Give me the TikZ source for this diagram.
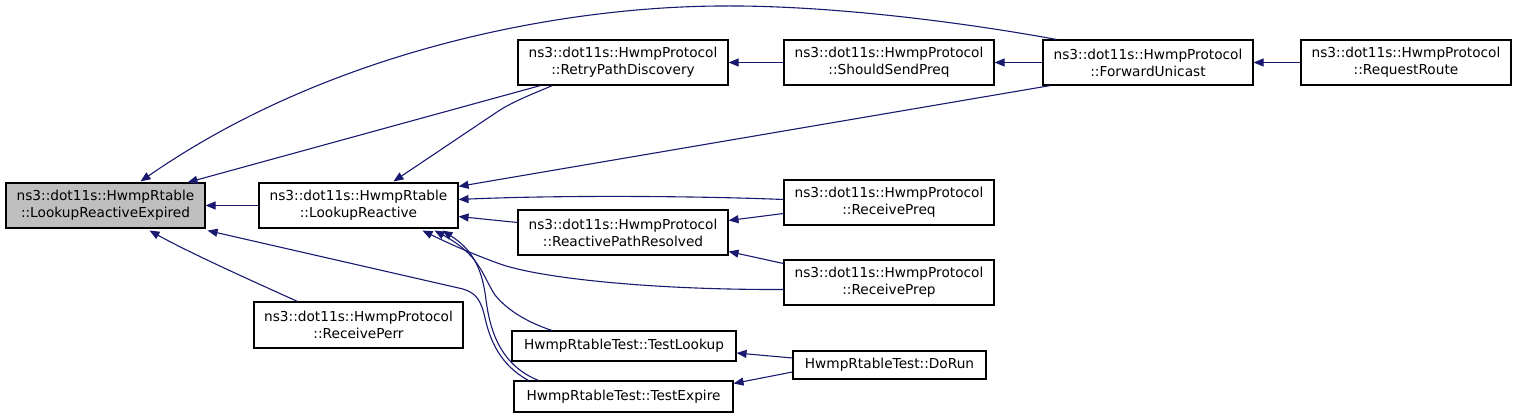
\documentclass[tikz,border=0pt]{standalone}
\usepackage{fontspec}
\setmainfont{DejaVu Sans}
\usetikzlibrary{arrows.meta,calc}
\definecolor{edgeblue}{HTML}{191970}
\definecolor{rootgray}{HTML}{BFBFBF}
\begin{document}
\begin{tikzpicture}[x=1pt,y=-1pt,
  box/.style={draw=black,line width=1.1pt,fill=white,inner sep=0pt,align=center,
    font=\fontsize{13.7}{17}\selectfont},
  edge/.style={draw=edgeblue,line width=1.1pt,-{Triangle[length=10pt,width=8pt]}}]
\useasboundingbox (0,0) rectangle (1517,419);
\node[box,fill=rootgray,minimum width=199pt,minimum height=45pt] (A) at (105.5,205.5) {ns3::dot11s::HwmpRtable\\::LookupReactiveExpired};
\node[box,minimum width=199pt,minimum height=45pt] (B) at (358.5,205.5) {ns3::dot11s::HwmpRtable\\::LookupReactive};
\node[box,minimum width=210pt,minimum height=45pt] (C) at (623,62.5) {ns3::dot11s::HwmpProtocol\\::RetryPathDiscovery};
\node[box,minimum width=210pt,minimum height=45pt] (D) at (889,62.5) {ns3::dot11s::HwmpProtocol\\::ShouldSendPreq};
\node[box,minimum width=210pt,minimum height=45pt] (E) at (1148,62.5) {ns3::dot11s::HwmpProtocol\\::ForwardUnicast};
\node[box,minimum width=210pt,minimum height=45pt] (F) at (1406,62.5) {ns3::dot11s::HwmpProtocol\\::RequestRoute};
\node[box,minimum width=210pt,minimum height=45pt] (G) at (889,202.5) {ns3::dot11s::HwmpProtocol\\::ReceivePreq};
\node[box,minimum width=210pt,minimum height=45pt] (H) at (623,232.5) {ns3::dot11s::HwmpProtocol\\::ReactivePathResolved};
\node[box,minimum width=210pt,minimum height=45pt] (I) at (889,282.5) {ns3::dot11s::HwmpProtocol\\::ReceivePrep};
\node[box,minimum width=209pt,minimum height=46pt] (J) at (358.5,325) {ns3::dot11s::HwmpProtocol\\::ReceivePerr};
\node[box,minimum width=224pt,minimum height=30pt] (K) at (624,346) {HwmpRtableTest::TestLookup};
\node[box,minimum width=219pt,minimum height=31pt] (L) at (623.5,396.5) {HwmpRtableTest::TestExpire};
\node[box,minimum width=193pt,minimum height=28pt] (M) at (889.5,365) {HwmpRtableTest::DoRun};
% edges
\draw[edge] (B.west) -- (A.east);
\draw[edge] ($(C.south west)+(23,0)$) -- ($(A.north east)+(-18,0)$);
\draw[edge] ($(C.south west)+(35,0)$) .. controls (530,95) and (512,102) .. (497,112) -- ($(B.north)+(35,-1)$);
\draw[edge] ($(E.north west)+(14,0)$) .. controls (950,20) and (820,5) .. (720,6)
   .. controls (560,7) and (330,50) .. ($(A.north)+(35,-1)$);
\draw[edge] ($(E.south west)+(8,0)$) -- ($(B.north east)+(0,4)$);
\draw[edge] ($(G.west)+(0,-3)$) .. controls (700,196) and (560,195) .. ($(B.east)+(0,-6)$);
\draw[edge] ($(H.west)+(0,-10)$) -- ($(B.east)+(0,11)$);
\draw[edge] ($(I.west)+(0,7)$) .. controls (650,290) and (540,278) .. (500,264)
   .. controls (470,253) and (450,244) .. ($(B.south)+(64,2)$);
\draw[edge] ($(K.north)+(-72,0)$) .. controls (520,320) and (503,305) .. (495,295)
   .. controls (482,275) and (480,255) .. ($(B.south)+(76,2)$);
\draw[edge] ($(L.north)+(-85,0)$) .. controls (500,365) and (490,330) .. (486,300)
   .. controls (482,265) and (470,248) .. ($(B.south)+(84,2)$);
\draw[edge] ($(L.north)+(-95,0)$) .. controls (500,365) and (490,340) .. (485,318)
   .. controls (481,300) and (476,293) .. (463,289) -- ($(A.south east)+(2,2)$);
\draw[edge] ($(J.north)+(-61,0)$) .. controls (250,280) and (190,253) .. ($(A.south)+(44,2)$);
\draw[edge] (D.west) -- (C.east);
\draw[edge] (E.west) -- (D.east);
\draw[edge] (F.west) -- (E.east);
\draw[edge] ($(G.west)+(0,11)$) -- ($(H.east)+(0,-12)$);
\draw[edge] ($(I.west)+(0,-19)$) -- ($(H.east)+(0,19)$);
\draw[edge] ($(M.west)+(0,-7)$) -- ($(K.east)+(0,7)$);
\draw[edge] ($(M.west)+(0,7)$) -- ($(L.east)+(0,-13)$);
\end{tikzpicture}
\end{document}
